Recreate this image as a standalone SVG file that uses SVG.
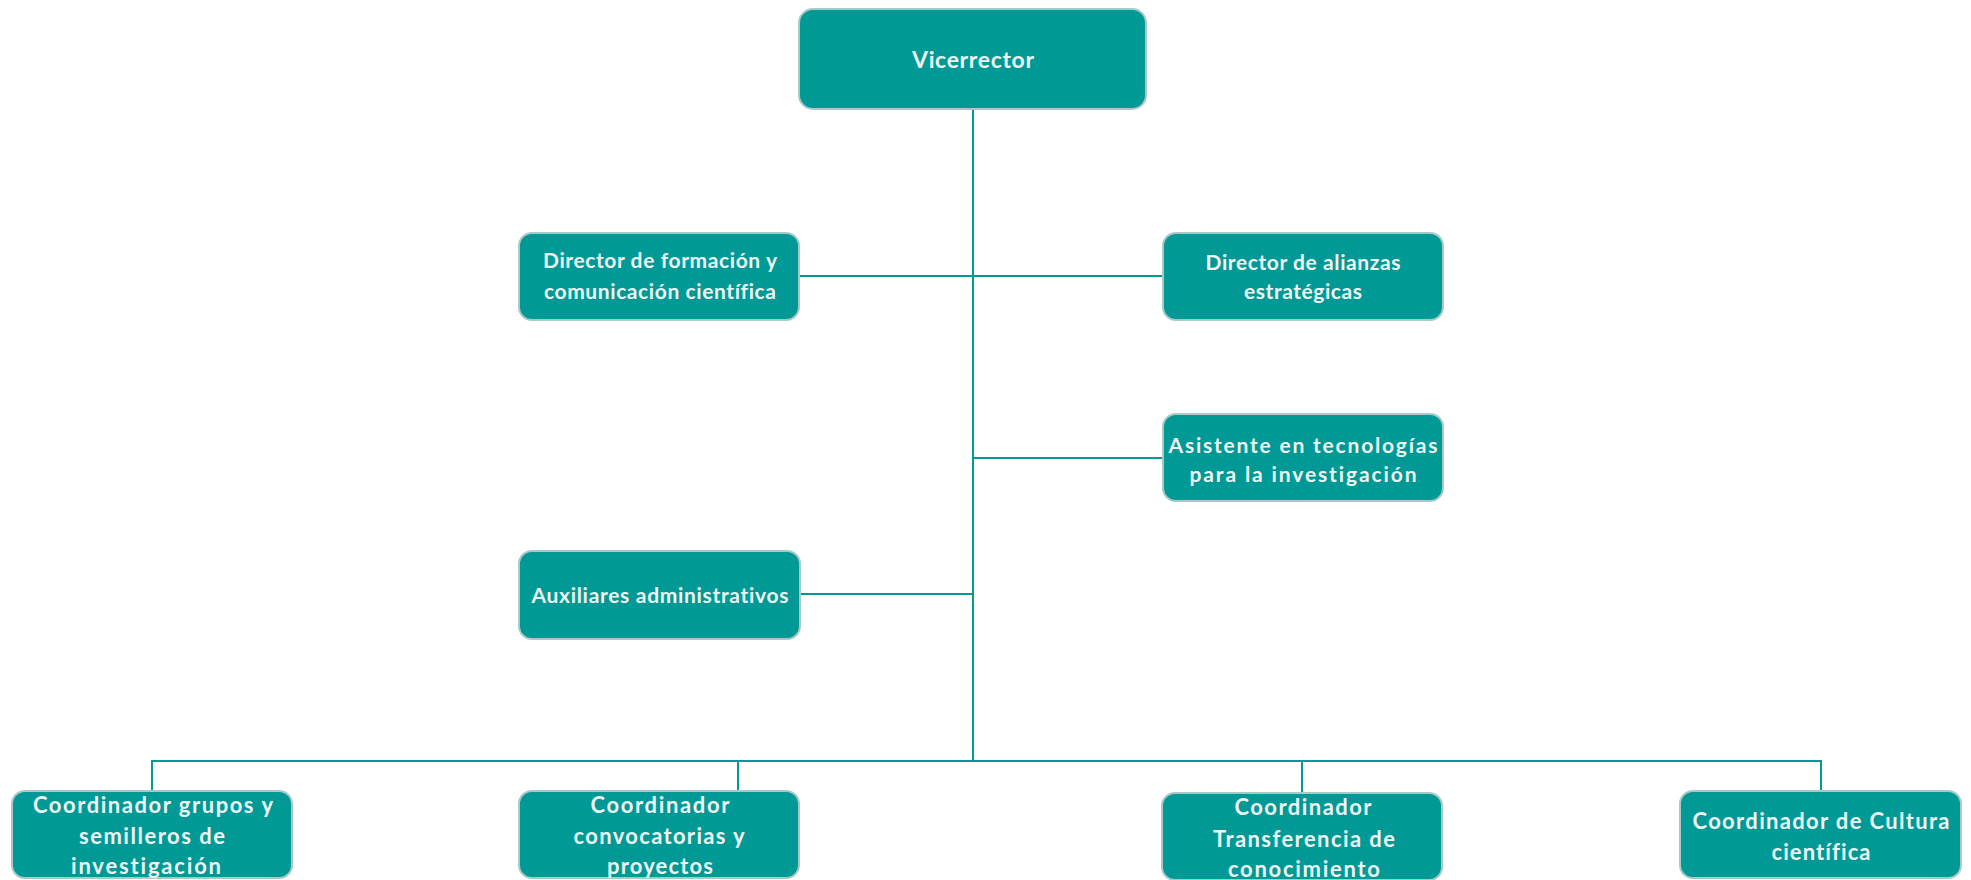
<svg xmlns="http://www.w3.org/2000/svg" width="1971" height="880" viewBox="0 0 1971 880">
<style>
.box{fill:#009995;stroke:#a9c9c6;stroke-width:2}
.t{font-family:Lato,"Liberation Sans",sans-serif;font-weight:bold;font-size:21px;fill:#eef6f5;text-anchor:middle;font-variant-ligatures:none}
.big{font-size:23px}
.bt{font-size:22px}
.c{fill:none;stroke:#009995;stroke-width:2}
</style>
<rect width="1971" height="880" fill="#ffffff"/>
<g id="connectors">
<path class="c" d="M973,109 V761"/>
<path class="c" d="M799,276 H1163"/>
<path class="c" d="M973,458 H1163"/>
<path class="c" d="M800,594 H973"/>
<path class="c" d="M152,791 V761 H1821 V791"/>
<path class="c" d="M738,761 V791"/>
<path class="c" d="M1302,761 V793"/>
</g>
<g id="vicerrector">
<rect class="box" x="799" y="9" width="347" height="100" rx="14"/>
<text class="t big" x="973" y="68" textLength="122" lengthAdjust="spacing">Vicerrector</text>
</g>
<g id="dir-formacion">
<rect class="box" x="519" y="233" width="280" height="87" rx="13"/>
<text class="t" x="660" y="268" textLength="234" lengthAdjust="spacing">Director de formación y</text>
<text class="t" x="660" y="299" textLength="232" lengthAdjust="spacing">comunicación científica</text>
</g>
<g id="dir-alianzas">
<rect class="box" x="1163" y="233" width="280" height="87" rx="13"/>
<text class="t" x="1303" y="270" textLength="195" lengthAdjust="spacing">Director de alianzas</text>
<text class="t" x="1303" y="299" textLength="118" lengthAdjust="spacing">estratégicas</text>
</g>
<g id="asistente">
<rect class="box" x="1163" y="414" width="280" height="87" rx="13"/>
<text class="t" x="1303" y="453" textLength="269" lengthAdjust="spacing">Asistente en tecnologías</text>
<text class="t" x="1303" y="482" textLength="227" lengthAdjust="spacing">para la investigación</text>
</g>
<g id="auxiliares">
<rect class="box" x="519" y="551" width="281" height="88" rx="13"/>
<text class="t" x="660" y="603" textLength="257" lengthAdjust="spacing">Auxiliares administrativos</text>
</g>
<g id="coord-grupos">
<rect class="box" x="12" y="791" width="280" height="87" rx="13"/>
<text class="t bt" x="153" y="813" textLength="240" lengthAdjust="spacing">Coordinador grupos  y</text>
<text class="t bt" x="152" y="844" textLength="146" lengthAdjust="spacing">semilleros de</text>
<text class="t bt" x="146" y="874" textLength="150" lengthAdjust="spacing">investigación</text>
</g>
<g id="coord-convocatorias">
<rect class="box" x="519" y="791" width="280" height="87" rx="13"/>
<text class="t bt" x="660" y="813" textLength="139" lengthAdjust="spacing">Coordinador</text>
<text class="t bt" x="659" y="844" textLength="171" lengthAdjust="spacing">convocatorias y</text>
<text class="t bt" x="660" y="874" textLength="106" lengthAdjust="spacing">proyectos</text>
</g>
<g id="coord-transferencia">
<rect class="box" x="1162" y="793" width="280" height="87" rx="13"/>
<text class="t bt" x="1303" y="815" textLength="137" lengthAdjust="spacing">Coordinador</text>
<text class="t bt" x="1304" y="847" textLength="182" lengthAdjust="spacing">Transferencia de</text>
<text class="t bt" x="1304" y="877" textLength="152" lengthAdjust="spacing">conocimiento</text>
</g>
<g id="coord-cultura">
<rect class="box" x="1680" y="791" width="281" height="87" rx="13"/>
<text class="t bt" x="1821" y="829" textLength="257" lengthAdjust="spacing">Coordinador de Cultura</text>
<text class="t bt" x="1821" y="860" textLength="99" lengthAdjust="spacing">científica</text>
</g>
</svg>
